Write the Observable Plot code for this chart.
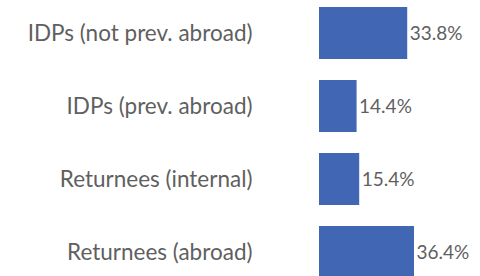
<!DOCTYPE html>
<html>
<head>
<meta charset="utf-8">
<script src="https://cdn.jsdelivr.net/npm/d3@7"></script>
<script src="https://cdn.jsdelivr.net/npm/@observablehq/plot@0.6"></script>
<style>
  html, body { margin: 0; padding: 0; background: #fff; }
</style>
</head>
<body>
<div id="chart"></div>
<script>
const categories = ["IDPs (not prev. abroad)", "IDPs (prev. abroad)", "Returnees (internal)", "Returnees (abroad)"];
const values = [33.8, 14.4, 15.4, 36.4];
const valueLabels = ["33.8%", "14.4%", "15.4%", "36.4%"];

const data = categories.map((c, i) => ({category: c, value: values[i], label: valueLabels[i]}));

const chart = Plot.plot({
  width: 480,
  height: 276,
  marginLeft: 319,
  marginRight: 56.6,
  marginTop: 6,
  marginBottom: 0,
  style: {background: "#fff"},
  x: {domain: [0, 40], axis: null},
  y: {domain: categories, range: [6, 278], paddingInner: 0.29, paddingOuter: 0, axis: null},
  marks: [
    Plot.barX(data, {x: "value", y: "category", fill: "#4066B4"}),
    Plot.text(data, {x: "value", y: "category", text: "label", textAnchor: "start", dx: 2, fill: "#5f5f5f", fontSize: 19, fontFamily: "Lato"}),
    Plot.axisY({domain: categories, anchor: "left", tickSize: 0, tickPadding: 67, fontSize: 22.5, fontFamily: "Lato", color: "#5f5f5f", label: null})
  ]
});
document.getElementById("chart").appendChild(chart);
</script>
</body>
</html>
